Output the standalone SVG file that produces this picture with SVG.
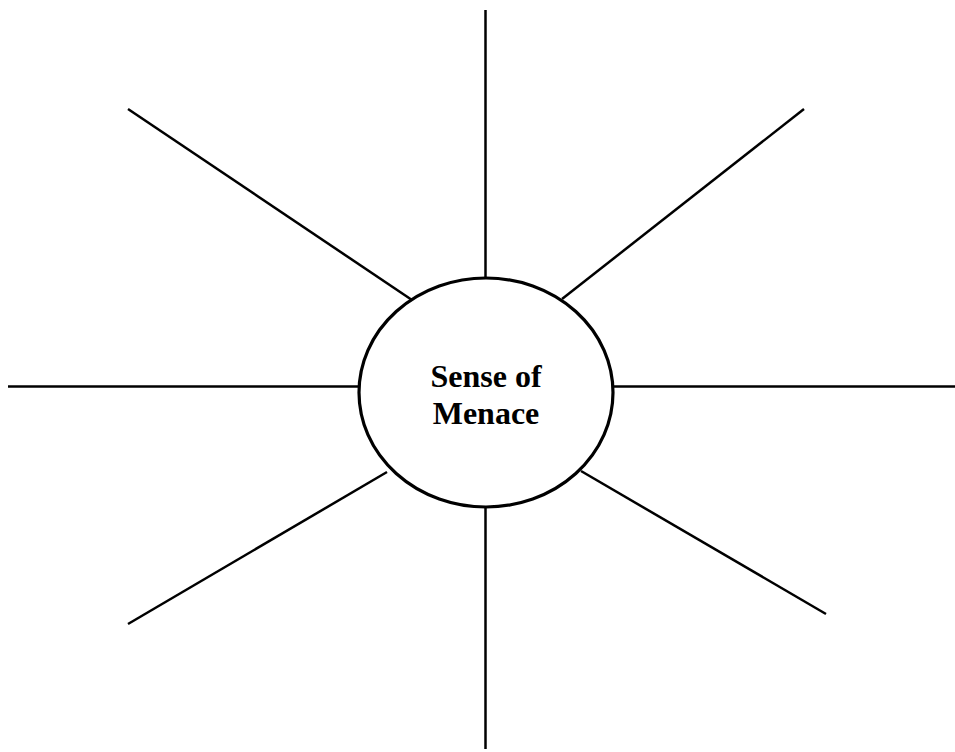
<svg xmlns="http://www.w3.org/2000/svg" width="955" height="752" viewBox="0 0 955 752">
<style>
.ln{stroke:#000;stroke-width:2.5;fill:none}
.nd{stroke:#000;stroke-width:3.2;fill:#fff}
.lb{font-family:"Liberation Serif","Times New Roman",serif;font-weight:bold;font-size:32px;text-anchor:middle;fill:#000}
</style>
<rect width="955" height="752" fill="#fff"/>
<g id="connectors">
<line class="ln" x1="485.5" y1="10" x2="485.5" y2="278"/>
<line class="ln" x1="485.5" y1="507" x2="485.5" y2="749"/>
<line class="ln" x1="8" y1="386.5" x2="359" y2="386.5"/>
<line class="ln" x1="613" y1="386.5" x2="955" y2="386.5"/>
<line class="ln" x1="128" y1="109" x2="412" y2="300"/>
<line class="ln" x1="804" y1="109" x2="562" y2="299"/>
<line class="ln" x1="128" y1="624" x2="387" y2="472"/>
<line class="ln" x1="826" y1="614" x2="581" y2="471"/>
</g>
<g id="center">
<ellipse class="nd" cx="486" cy="392.5" rx="127" ry="114.5"/>
<text class="lb" x="486" y="387">Sense of</text>
<text class="lb" x="486" y="424">Menace</text>
</g>
</svg>
